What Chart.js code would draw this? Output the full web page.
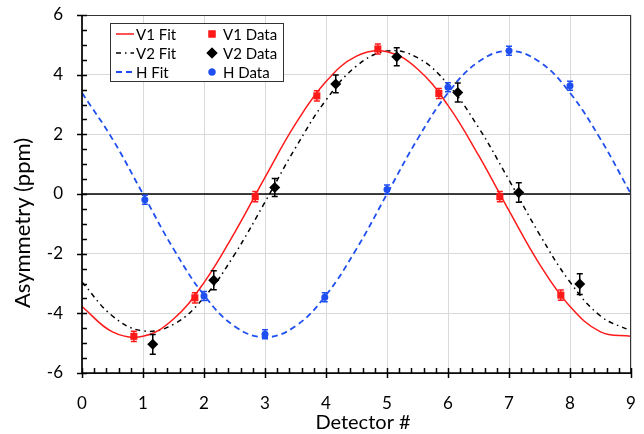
<!DOCTYPE html>
<html>
<head>
<meta charset="utf-8">
<script src="https://cdn.jsdelivr.net/npm/chart.js@4.4.1/dist/chart.umd.min.js"></script>
<style>
  html, body { margin: 0; padding: 0; background: #fff; }
</style>
</head>
<body>
<canvas id="asymChart" width="644" height="434"></canvas>
<script>
// DATA
const fitX = [0, 0.5, 1, 1.5, 2, 2.5, 3, 3.5, 4, 4.5, 5, 5.5, 6, 6.5, 7, 7.5, 8, 8.5, 9];
const v1Fit = [-3.77, -4.62, -4.77, -4.19, -2.97, -1.30, 0.56, 2.35, 3.77, 4.62, 4.77, 4.19, 2.97, 1.30, -0.56, -2.35, -3.77, -4.62, -4.77];
const v2Fit = [-2.95, -4.09, -4.59, -4.37, -3.47, -2.03, -0.27, 1.55, 3.15, 4.29, 4.79, 4.57, 3.67, 2.23, 0.47, -1.35, -2.95, -4.09, -4.59];
const hFit = [3.39, 1.84, 0, -1.84, -3.39, -4.43, -4.80, -4.43, -3.39, -1.84, 0, 1.84, 3.39, 4.43, 4.80, 4.43, 3.39, 1.84, 0];

const v1DetX = [0.85, 1.85, 2.84, 3.85, 4.85, 5.85, 6.85, 7.85];
const v1Asym = [-4.77, -3.48, -0.09, 3.29, 4.86, 3.37, -0.09, -3.39];
const v1Err = [0.17, 0.17, 0.17, 0.17, 0.17, 0.17, 0.17, 0.17];

const v2DetX = [1.16, 2.16, 3.16, 4.16, 5.16, 6.16, 7.16, 8.16];
const v2Asym = [-5.04, -2.89, 0.22, 3.69, 4.60, 3.40, 0.05, -3.02];
const v2Err = [0.33, 0.32, 0.3, 0.3, 0.3, 0.32, 0.33, 0.35];

const hDetX = [1.03, 2, 3, 3.98, 5, 6, 7, 8];
const hAsym = [-0.19, -3.42, -4.70, -3.46, 0.15, 3.58, 4.80, 3.63];
const hErr = [0.15, 0.15, 0.15, 0.15, 0.15, 0.15, 0.15, 0.15];

const xMin = 0, xMax = 9, xStep = 1, xMinor = 0.2;
const yMin = -6, yMax = 6, yStep = 2, yMinor = 0.5;

const FONT = 'Lato, "Open Sans", sans-serif';
const RED = '#ff1a1a', BLUE = '#1f4ff0', BLACK = '#000000';

const pts = (xs, ys) => xs.map((x, i) => ({ x: x, y: ys[i] }));

// PLUGINS
const backdrop = {
  id: 'backdrop',
  beforeDatasetsDraw(chart) {
    const { ctx, chartArea: a, scales: { y } } = chart;
    const y0 = y.getPixelForValue(0);
    ctx.save();
    ctx.strokeStyle = '#000';
    ctx.lineWidth = 1.5;
    ctx.beginPath(); ctx.moveTo(a.left, y0); ctx.lineTo(a.right, y0); ctx.stroke();
    ctx.restore();
  }
};

const errorBars = {
  id: 'errorBars',
  beforeDatasetDraw(chart, args) {
    const ds = chart.data.datasets[args.index];
    if (!ds.errors) return;
    const { ctx, scales: { x, y } } = chart;
    ctx.save();
    ctx.strokeStyle = ds.backgroundColor;
    ctx.lineWidth = 1.5;
    ds.data.forEach((p, i) => {
      const px = x.getPixelForValue(p.x);
      const top = y.getPixelForValue(p.y + ds.errors[i]);
      const bot = y.getPixelForValue(p.y - ds.errors[i]);
      ctx.beginPath();
      ctx.moveTo(px, top); ctx.lineTo(px, bot);
      ctx.moveTo(px - 3, top); ctx.lineTo(px + 3, top);
      ctx.moveTo(px - 3, bot); ctx.lineTo(px + 3, bot);
      ctx.stroke();
    });
    ctx.restore();
  }
};

const axesFrame = {
  id: 'axesFrame',
  afterDatasetsDraw(chart) {
    const { ctx, chartArea: a, scales: { x, y } } = chart;
    ctx.save();
    ctx.strokeStyle = '#333';
    ctx.lineWidth = 1;
    ctx.strokeRect(a.left, a.top + 0.5, a.right - a.left - 0.5, a.bottom - a.top);
    ctx.strokeStyle = '#000';
    ctx.lineWidth = 1.5;
    ctx.beginPath();
    ctx.moveTo(a.left, a.top); ctx.lineTo(a.left, a.bottom); ctx.lineTo(a.right, a.bottom);
    // x ticks
    for (let v = xMin; v <= xMax + 1e-9; v += xMinor) {
      const px = Math.round(x.getPixelForValue(v)) + 0.5;
      const major = Math.abs(v - Math.round(v)) < 1e-6;
      ctx.moveTo(px, a.bottom - 5);
      ctx.lineTo(px, a.bottom + (major ? 5 : 0));
    }
    // y ticks
    for (let v = yMin; v <= yMax + 1e-9; v += yMinor) {
      const py = Math.round(y.getPixelForValue(v)) + 0.5;
      const major = Math.abs(v / yStep - Math.round(v / yStep)) < 1e-6;
      ctx.moveTo(a.left - (major ? 5 : 0), py);
      ctx.lineTo(a.left + 5, py);
    }
    ctx.stroke();
    ctx.restore();
  }
};

const titlesAndLegend = {
  id: 'titlesAndLegend',
  afterDraw(chart) {
    const { ctx } = chart;
    ctx.save();
    ctx.fillStyle = '#000';
    ctx.textAlign = 'center';
    ctx.textBaseline = 'middle';
    ctx.font = '20px ' + FONT;
    ctx.fillText('Detector #', 363, 423);
    ctx.translate(23, 223);
    ctx.rotate(-Math.PI / 2);
    ctx.font = '22px ' + FONT;
    ctx.fillText('Asymmetry (ppm)', 0, 0);
    ctx.restore();

    // legend box
    const bx = 110.5, by = 23.5, bw = 173, bh = 58;
    ctx.save();
    ctx.fillStyle = '#fff';
    ctx.fillRect(bx, by, bw, bh);
    ctx.strokeStyle = '#333';
    ctx.lineWidth = 1;
    ctx.strokeRect(bx, by, bw, bh);
    ctx.font = '15px ' + FONT;
    ctx.textBaseline = 'middle';
    ctx.textAlign = 'left';
    ctx.fillStyle = '#000';
    const rows = [34, 53, 72];
    const fits = chart.data.datasets.filter(d => d.showLine);
    const marks = chart.data.datasets.filter(d => !d.showLine);
    fits.forEach((d, i) => {
      ctx.save();
      ctx.strokeStyle = d.borderColor;
      ctx.lineWidth = d.borderWidth;
      ctx.setLineDash(d.borderDash || []);
      ctx.beginPath(); ctx.moveTo(116, rows[i]); ctx.lineTo(134, rows[i]); ctx.stroke();
      ctx.restore();
      ctx.fillText(d.label, 136, rows[i] + 1);
    });
    marks.forEach((d, i) => {
      ctx.fillStyle = d.backgroundColor;
      Chart.helpers.drawPoint(ctx, {
        pointStyle: d.pointStyle, radius: d.pointRadius, rotation: 0, borderWidth: 0
      }, 212, rows[i]);
      ctx.fill();
      ctx.fillStyle = '#000';
      ctx.fillText(d.label, 223, rows[i] + 1);
    });
    ctx.restore();
  }
};

// CHART
const ctx = document.getElementById('asymChart').getContext('2d');
const asymChart = new Chart(ctx, {
  type: 'scatter',
  data: {
    datasets: [
      { label: 'V1 Fit', data: pts(fitX, v1Fit), showLine: true, borderColor: RED, borderWidth: 1.5, pointRadius: 0, tension: 0.4, order: 2 },
      { label: 'V2 Fit', data: pts(fitX, v2Fit), showLine: true, borderColor: BLACK, borderWidth: 1.5, borderDash: [5, 4, 1.5, 4], pointRadius: 0, tension: 0.4, order: 2 },
      { label: 'H Fit', data: pts(fitX, hFit), showLine: true, borderColor: BLUE, borderWidth: 1.8, borderDash: [6, 4], pointRadius: 0, tension: 0.4, order: 2 },
      { label: 'V1 Data', data: pts(v1DetX, v1Asym), errors: v1Err, pointStyle: 'rect', pointRadius: 5, backgroundColor: RED, borderColor: RED, borderWidth: 0, order: 1 },
      { label: 'V2 Data', data: pts(v2DetX, v2Asym), errors: v2Err, pointStyle: 'rectRot', pointRadius: 5.5, backgroundColor: BLACK, borderColor: BLACK, borderWidth: 0, order: 1 },
      { label: 'H Data', data: pts(hDetX, hAsym), errors: hErr, pointStyle: 'circle', pointRadius: 3.5, backgroundColor: BLUE, borderColor: BLUE, borderWidth: 0, order: 1 }
    ]
  },
  options: {
    responsive: false,
    animation: false,
    layout: { padding: { top: 15, right: 13, left: 0, bottom: 0 } },
    plugins: { legend: { display: false }, tooltip: { enabled: false } },
    scales: {
      x: {
        type: 'linear', min: xMin, max: xMax,
        afterFit: s => { s.height = 61; s.paddingLeft = 0; s.paddingRight = 0; },
        ticks: { stepSize: xStep, padding: 20, color: '#000', font: { family: FONT, size: 17 } },
        grid: { color: '#d9d9d9', drawTicks: false },
        border: { display: false }
      },
      y: {
        min: yMin, max: yMax,
        afterFit: s => { s.width = 82; s.paddingTop = 0; s.paddingBottom = 0; },
        ticks: { stepSize: yStep, padding: 19, color: '#000', font: { family: FONT, size: 17 } },
        grid: { color: '#d9d9d9', drawTicks: false },
        border: { display: false }
      }
    }
  },
  plugins: [backdrop, errorBars, axesFrame, titlesAndLegend]
});
</script>
</body>
</html>
